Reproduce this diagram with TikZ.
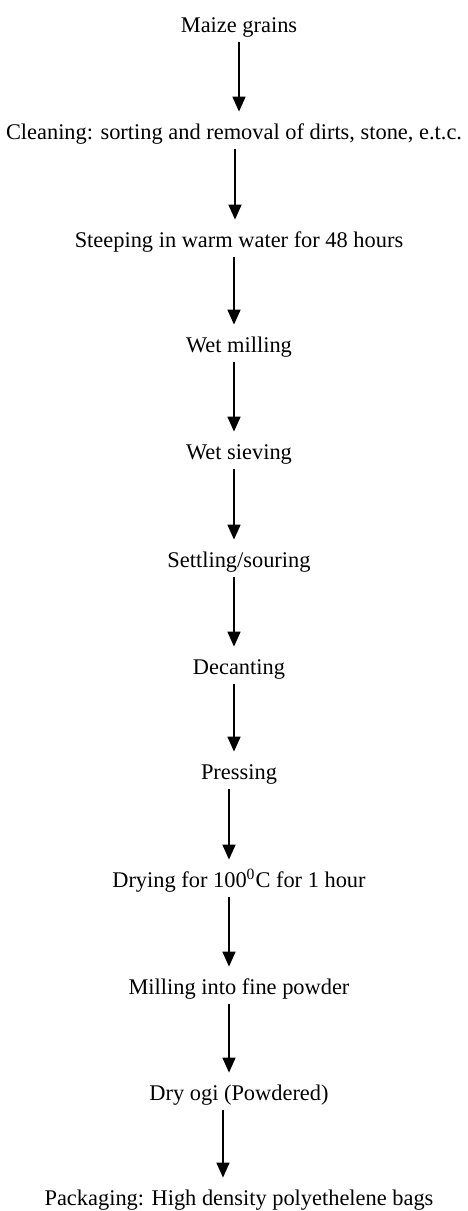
\documentclass[tikz,border=0pt]{standalone}
\usepackage{fontspec}
\setmainfont{Liberation Serif}
\usetikzlibrary{arrows.meta}

\begin{document}
\begin{tikzpicture}[
    x=0.5pt, y=-0.5pt,
    font=\fontsize{11.2}{13}\selectfont,
    stage/.style={inner xsep=0pt, inner ysep=4.5pt, text height=7.5pt, text depth=0.5pt, text=black},
    flow/.style={black, line width=0.8pt, shorten >=1.5pt, -{Triangle[width=6.5pt, length=7.5pt]}}
]
\useasboundingbox (0,0) rectangle (467,1211);

% ==================== STAGES ====================
\node[stage] (maize) at (239, 25) {Maize grains};
\node[stage] (cleaning) at (234, 132) {Cleaning: sorting and removal of dirts, stone, e.t.c.};
\node[stage] (steeping) at (239, 240) {Steeping in warm water for 48 hours};
\node[stage] (wetmill) at (239, 345) {Wet milling};
\node[stage] (wetsieve) at (239, 452) {Wet sieving};
\node[stage] (settling) at (239, 560) {Settling/souring};
\node[stage] (decanting) at (239, 667) {Decanting};
\node[stage] (pressing) at (239, 772) {Pressing};
\node[stage] (drying) at (239, 880) {Drying for 100\textsuperscript{0}C for 1 hour};
\node[stage] (milling) at (239, 987) {Milling into fine powder};
\node[stage] (dryogi) at (239, 1093) {Dry ogi (Powdered)};
\node[stage] (packaging) at (239, 1198) {Packaging: High density polyethelene bags};

% ==================== FLOW ARROWS ====================
\draw[flow] (maize.south) -- (maize.south |- cleaning.north);
\draw[flow] ([xshift=0.5pt]cleaning.south) -- ([xshift=-2pt]steeping.north);
\draw[flow] ([xshift=-2.5pt]steeping.south) -- ([xshift=-2.5pt]wetmill.north);
\draw[flow] ([xshift=-2.5pt]wetmill.south) -- ([xshift=-2.5pt]wetsieve.north);
\draw[flow] ([xshift=-2.5pt]wetsieve.south) -- ([xshift=-2.5pt]settling.north);
\draw[flow] ([xshift=-2.5pt]settling.south) -- ([xshift=-2.5pt]decanting.north);
\draw[flow] ([xshift=-2.5pt]decanting.south) -- ([xshift=-2.5pt]pressing.north);
\draw[flow] ([xshift=-5pt]pressing.south) -- ([xshift=-5pt]drying.north);
\draw[flow] ([xshift=-5pt]drying.south) -- ([xshift=-5pt]milling.north);
\draw[flow] ([xshift=-5pt]milling.south) -- ([xshift=-5pt]dryogi.north);
\draw[flow] ([xshift=-8pt]dryogi.south) -- ([xshift=-8pt]packaging.north);

\end{tikzpicture}
\end{document}
